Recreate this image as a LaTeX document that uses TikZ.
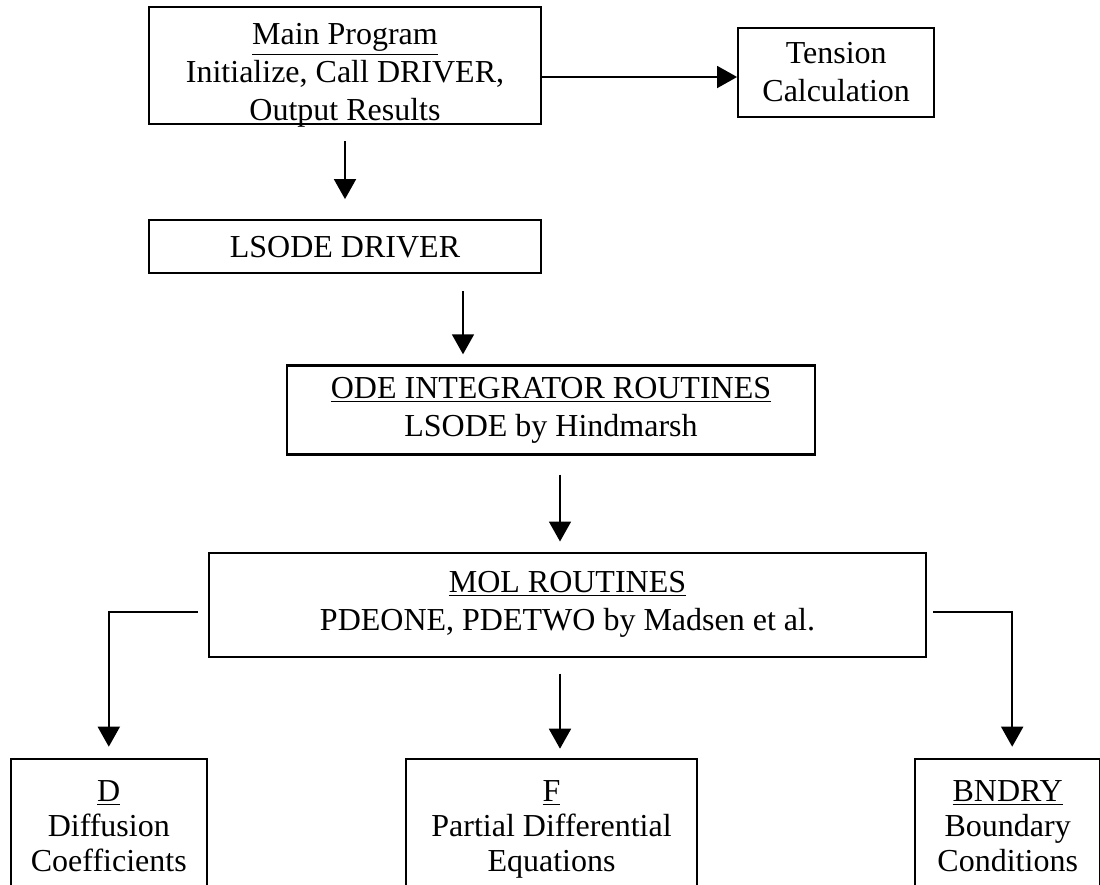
\documentclass[tikz,border=0pt]{standalone}
\usepackage{fontspec}
\setmainfont{Liberation Serif}
\usepackage{tikz}
\usetikzlibrary{positioning, arrows.meta}

\begin{document}
\begin{tikzpicture}[node distance=1cm,
  box/.style={draw, line width=1.1pt, inner sep=0pt, align=center, font=\fontsize{16}{19}\selectfont},
  lowbox/.style={box, font=\fontsize{16}{17.5}\selectfont, minimum height=67pt},
  arr/.style={-{Triangle[length=10pt,width=11pt]}, line width=0.9pt}]
\useasboundingbox (0,0) rectangle (550pt,-442.5pt);
\node[box, minimum width=196pt, minimum height=58.5pt] (main) at (172.5pt,-32.75pt)
  {\rule{0pt}{17pt}\underline{Main Program}\\Initialize, Call DRIVER,\\\smash{Output Results}};
\node[box, minimum width=98pt, minimum height=44.5pt, right=97.5pt of main, yshift=-3.5pt] (tension)
  {Tension\\Calculation};
\draw[arr] ([yshift=-5.75pt]main.east) -- ([yshift=-2.25pt]tension.west);
\node[box, minimum width=196pt, minimum height=26.5pt, below=47pt of main] (driver) {LSODE DRIVER};
\draw[arr, shorten <=8pt, shorten >=10pt] (main.south) -- (driver.north);
\node[box, minimum width=264pt, minimum height=44.5pt, below=45pt of driver, xshift=103pt] (ode)
  {\underline{ODE INTEGRATOR ROUTINES}\\LSODE by Hindmarsh};
\draw[arr, shorten <=8.5pt, shorten >=5pt] ([xshift=59pt]driver.south) -- ([xshift=-44pt]ode.north);
\node[box, minimum width=358.5pt, minimum height=52pt, below=48pt of ode, xshift=8.25pt] (mol)
  {\underline{MOL ROUTINES}\\PDEONE, PDETWO by Madsen et al.};
\draw[arr, shorten <=9.5pt, shorten >=5pt] ([xshift=4.5pt]ode.south) -- ([xshift=-3.75pt]mol.north);
% bottom row
\node[lowbox, minimum width=145.5pt, below=50pt of mol, xshift=-8pt] (fbox)
  {\underline{F}\\Partial Differential\\\smash{Equations}};
\node[lowbox, minimum width=98pt, left=98.5pt of fbox] (dbox)
  {\underline{D}\\Diffusion\\Coefficients};
\node[lowbox, minimum width=92.5pt, right=108pt of fbox] (bbox)
  {\underline{BNDRY}\\Boundary\\Conditions};
\draw[arr, shorten >=5.5pt] ([xshift=-5pt,yshift=-3.5pt]mol.west) -| (dbox.north);
\draw[arr, shorten <=8pt, shorten >=4.5pt] ([xshift=-3.75pt]mol.south) -- ([xshift=4.25pt]fbox.north);
\draw[arr, shorten >=5.5pt] ([xshift=3pt,yshift=-3.5pt]mol.east) -| ([xshift=2.25pt]bbox.north);
\end{tikzpicture}
\end{document}
